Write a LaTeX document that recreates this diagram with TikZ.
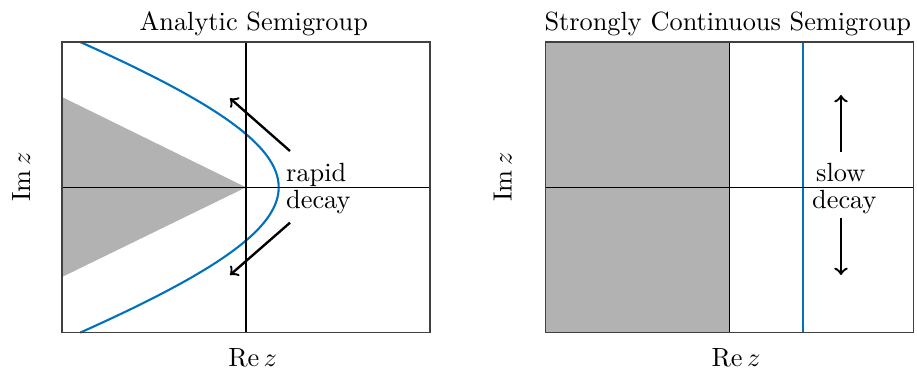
\documentclass[tikz,border=0pt]{standalone}
\definecolor{curveblue}{RGB}{0,114,189}
\tikzset{
  frame/.style={draw=black!75, line width=0.4pt},
  axisline/.style={draw=black, line width=0.45pt},
  region/.style={fill=black!30},
  spec/.style={draw=curveblue, line width=0.8pt},
  flow/.style={->, line width=0.9pt},
  lbl/.style={inner sep=0pt},
}
\begin{document}
\begin{tikzpicture}[x=0.38pt, y=-0.38pt]
\useasboundingbox (0,0) rectangle (917,369);

% ---------- analytic semigroup ----------
\fill[region] (62,97) -- (246,187.3) -- (62,277) -- cycle;
\draw[spec] plot[domain=-145.3:145.3, samples=90, smooth]
  ({278.7-348*(sqrt(1+(\x/120)^2)-1)}, {187.3+\x});
\draw[axisline] (62,187.3) -- (430,187.3);
\draw[axisline] (246,42) -- (246,332.3);
\draw[frame] (62,42) rectangle (430,332.3);

\coordinate (upL0) at (290,151);
\coordinate (upL1) at (230,98.3);
\coordinate (dnL0) at (290,222.7);
\coordinate (dnL1) at (230,275);
\draw[flow] (upL0) -- (upL1);
\draw[flow] (dnL0) -- (dnL1);

\node[lbl, anchor=base west] (rapid) at (285.7,181.7) {rapid};
\node[lbl, anchor=base west] (decayL) at (285.7,208.3) {decay};

\node[lbl, anchor=base] (titleL) at (253.8,30) {Analytic Semigroup};
\node[lbl, anchor=base, rotate=90] (imL) at (30,177) {$\mathrm{Im}\,z$};
\node[lbl, anchor=base] (reL) at (252.7,366.5) {$\mathrm{Re}\,z$};

% ---------- strongly continuous semigroup ----------
\fill[region] (545.7,42) rectangle (729.3,332.3);
\draw[spec] (802.7,42) -- (802.7,332.3);
\draw[axisline] (545.7,187.3) -- (913.3,187.3);
\draw[axisline] (729.3,42) -- (729.3,332.3);
\draw[frame] (545.7,42) rectangle (913.3,332.3);

\coordinate (upR0) at (841,151.7);
\coordinate (upR1) at (841,95);
\coordinate (dnR0) at (841,218.3);
\coordinate (dnR1) at (841,275);
\draw[flow] (upR0) -- (upR1);
\draw[flow] (dnR0) -- (dnR1);

\node[lbl, anchor=base west] (slow) at (815.7,181.7) {slow};
\node[lbl, anchor=base west] (decayR) at (811.7,208.3) {decay};

\node[lbl, anchor=base] (titleR) at (727.8,30) {Strongly Continuous Semigroup};
\node[lbl, anchor=base, rotate=90] (imR) at (511.7,177) {$\mathrm{Im}\,z$};
\node[lbl, anchor=base] (reR) at (736,366.5) {$\mathrm{Re}\,z$};
\end{tikzpicture}
\end{document}
